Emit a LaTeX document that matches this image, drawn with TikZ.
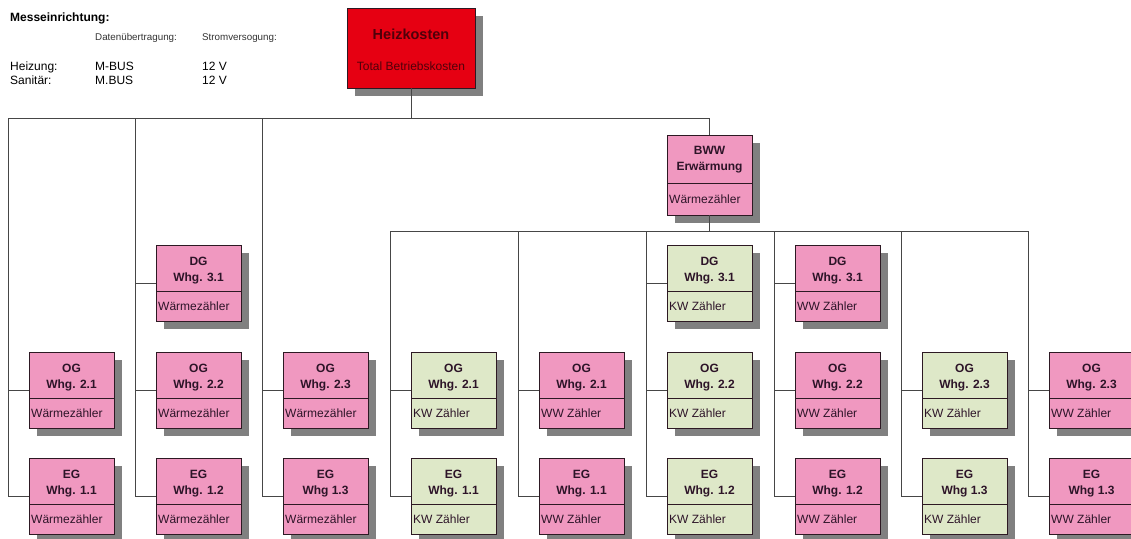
\documentclass[tikz,border=0pt]{standalone}
\usepackage{fontspec}
\setmainfont{Liberation Sans}
\definecolor{redfill}{RGB}{230,0,18}
\definecolor{pinkfill}{RGB}{240,152,192}
\definecolor{greenfill}{RGB}{222,232,200}
\definecolor{shadowgray}{RGB}{128,128,128}
\definecolor{linegray}{RGB}{70,70,70}
\definecolor{boxline}{RGB}{45,25,35}
\definecolor{txt}{RGB}{45,20,40}
\definecolor{redtxt}{RGB}{80,0,10}
\newcommand\ubox[7]{%
  \fill[shadowgray] (#2+8,#3+8) rectangle ++(85,76);
  \node[boxnode, fill=#4] (#1) at (#2,#3) {};
  \draw[divider] ([yshift=-46pt]#1.north west) -- ([yshift=-46pt]#1.north east);
  \node[ttl] (#1-a) at ([yshift=-16pt]#1.north) {#5};
  \node[ttl] (#1-b) at ([yshift=-32pt]#1.north) {#6};
  \node[sub] (#1-c) at ([xshift=2pt,yshift=-61pt]#1.north west) {#7};
}
\begin{document}
\begin{tikzpicture}[x=1pt,y=-1pt,
  conn/.style={draw=linegray, line width=0.9pt},
  divider/.style={draw=boxline, line width=0.7pt},
  boxnode/.style={draw=boxline, line width=0.8pt, anchor=north west, minimum width=85pt, minimum height=76pt, inner sep=0pt, outer sep=0pt},
  ttl/.style={font=\bfseries\fontsize{12}{14}\selectfont, text=txt, inner sep=0pt, text height=8.6pt, text depth=0pt},
  sub/.style={font=\fontsize{12}{14}\selectfont, text=txt, inner sep=0pt, anchor=west, text height=8.6pt, text depth=0pt},
  hdr/.style={anchor=base west, inner sep=0pt, text=black}]
\useasboundingbox (0,0) rectangle (1131,538);

% header text
\node[hdr, font=\bfseries\fontsize{12}{14}\selectfont] (mess) at (10,21) {Messeinrichtung:};
\node[hdr, font=\fontsize{9.8}{12}\selectfont, text=black!80] (daten) at (95,40) {Datenübertragung:};
\node[hdr, font=\fontsize{9.8}{12}\selectfont, text=black!80] (strom) at (202,40) {Stromversogung:};
\node[hdr, font=\fontsize{12}{14}\selectfont] (heiz) at (10,70) {Heizung:};
\node[hdr, font=\fontsize{12}{14}\selectfont] (mbus1) at (95,70) {M-BUS};
\node[hdr, font=\fontsize{12}{14}\selectfont] (v1) at (202,70) {12 V};
\node[hdr, font=\fontsize{12}{14}\selectfont] (sani) at (10,84) {Sanitär:};
\node[hdr, font=\fontsize{12}{14}\selectfont] (mbus2) at (95,84) {M.BUS};
\node[hdr, font=\fontsize{12}{14}\selectfont] (v2) at (202,84) {12 V};

% Heizkosten
\fill[shadowgray] (355,16) rectangle ++(128,80);
\node[boxnode, fill=redfill, minimum width=128pt, minimum height=80pt] (hk) at (347,8) {};
\node[inner sep=0pt, font=\bfseries\fontsize{14.5}{16}\selectfont, text=redtxt, text height=10.4pt, text depth=0pt] (hk-a) at ([yshift=-26pt]hk.north) {Heizkosten};
\node[inner sep=0pt, font=\fontsize{12}{14}\selectfont, text=redtxt, text height=8.6pt, text depth=0pt] (hk-b) at ([yshift=-58pt]hk.north) {Total Betriebskosten};

% BWW
\fill[shadowgray] (675,143) rectangle ++(85,80);
\node[boxnode, fill=pinkfill, minimum height=80pt] (bww) at (667,135) {};
\draw[divider] ([yshift=-48pt]bww.north west) -- ([yshift=-48pt]bww.north east);
\node[ttl] (bww-a) at ([yshift=-15pt]bww.north) {BWW};
\node[ttl] (bww-b) at ([yshift=-31pt]bww.north) {Erwärmung};
\node[sub] (bww-c) at ([xshift=2pt,yshift=-64pt]bww.north west) {Wärmezähler};

% left group
\ubox{lAog}{29}{352}{pinkfill}{OG}{Whg. 2.1}{Wärmezähler}
\ubox{lAeg}{29}{458}{pinkfill}{EG}{Whg. 1.1}{Wärmezähler}
\ubox{lBdg}{156}{245}{pinkfill}{DG}{Whg. 3.1}{Wärmezähler}
\ubox{lBog}{156}{352}{pinkfill}{OG}{Whg. 2.2}{Wärmezähler}
\ubox{lBeg}{156}{458}{pinkfill}{EG}{Whg. 1.2}{Wärmezähler}
\ubox{lCog}{283}{352}{pinkfill}{OG}{Whg. 2.3}{Wärmezähler}
\ubox{lCeg}{283}{458}{pinkfill}{EG}{Whg 1.3}{Wärmezähler}

% right group
\ubox{rAog}{411}{352}{greenfill}{OG}{Whg. 2.1}{KW Zähler}
\ubox{rAeg}{411}{458}{greenfill}{EG}{Whg. 1.1}{KW Zähler}
\ubox{rBog}{539}{352}{pinkfill}{OG}{Whg. 2.1}{WW Zähler}
\ubox{rBeg}{539}{458}{pinkfill}{EG}{Whg. 1.1}{WW Zähler}
\ubox{rCdg}{667}{245}{greenfill}{DG}{Whg. 3.1}{KW Zähler}
\ubox{rCog}{667}{352}{greenfill}{OG}{Whg. 2.2}{KW Zähler}
\ubox{rCeg}{667}{458}{greenfill}{EG}{Whg. 1.2}{KW Zähler}
\ubox{rDdg}{795}{245}{pinkfill}{DG}{Whg. 3.1}{WW Zähler}
\ubox{rDog}{795}{352}{pinkfill}{OG}{Whg. 2.2}{WW Zähler}
\ubox{rDeg}{795}{458}{pinkfill}{EG}{Whg. 1.2}{WW Zähler}
\ubox{rEog}{922}{352}{greenfill}{OG}{Whg. 2.3}{KW Zähler}
\ubox{rEeg}{922}{458}{greenfill}{EG}{Whg 1.3}{KW Zähler}
\ubox{rFog}{1049}{352}{pinkfill}{OG}{Whg. 2.3}{WW Zähler}
\ubox{rFeg}{1049}{458}{pinkfill}{EG}{Whg 1.3}{WW Zähler}

% connectors, upper bus
\coordinate (cA) at (8,118);
\coordinate (cB) at (135,118);
\coordinate (cC) at (262,118);
\draw[conn] (hk.south) -- (hk.south |- cA);
\draw[conn] (cA) -- (cA -| bww.north) -- (bww.north);
\draw[conn] (cA) |- (lAeg.west);
\draw[conn] (cA |- lAog.west) -- (lAog.west);
\draw[conn] (cB) |- (lBeg.west);
\draw[conn] (cB |- lBog.west) -- (lBog.west);
\draw[conn] (cB |- lBdg.west) -- (lBdg.west);
\draw[conn] (cC) |- (lCeg.west);
\draw[conn] (cC |- lCog.west) -- (lCog.west);

% lower bus
\coordinate (dA) at (390,231);
\coordinate (dB) at (518,231);
\coordinate (dC) at (646,231);
\coordinate (dD) at (774,231);
\coordinate (dE) at (901,231);
\coordinate (dF) at (1028,231);
\draw[conn] (bww.south) -- (bww.south |- dA);
\draw[conn] (dA) -- (dF);
\draw[conn] (dA) |- (rAeg.west);
\draw[conn] (dA |- rAog.west) -- (rAog.west);
\draw[conn] (dB) |- (rBeg.west);
\draw[conn] (dB |- rBog.west) -- (rBog.west);
\draw[conn] (dC) |- (rCeg.west);
\draw[conn] (dC |- rCog.west) -- (rCog.west);
\draw[conn] (dC |- rCdg.west) -- (rCdg.west);
\draw[conn] (dD) |- (rDeg.west);
\draw[conn] (dD |- rDog.west) -- (rDog.west);
\draw[conn] (dD |- rDdg.west) -- (rDdg.west);
\draw[conn] (dE) |- (rEeg.west);
\draw[conn] (dE |- rEog.west) -- (rEog.west);
\draw[conn] (dF) |- (rFeg.west);
\draw[conn] (dF |- rFog.west) -- (rFog.west);
\end{tikzpicture}
\end{document}
